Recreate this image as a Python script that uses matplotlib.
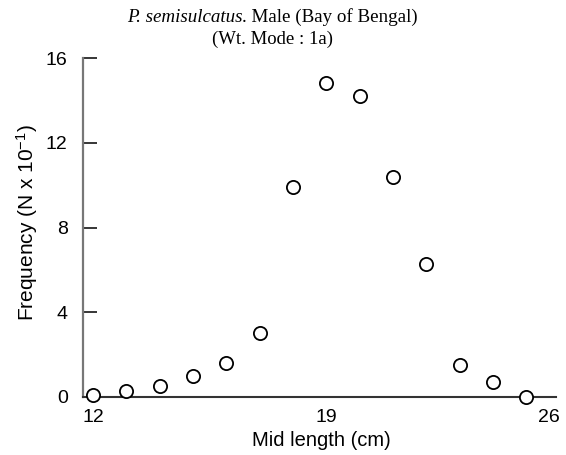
import numpy as np
import matplotlib.pyplot as plt
from matplotlib.transforms import ScaledTranslation

plt.rcParams['font.family'] = ['Liberation Sans', 'DejaVu Sans']
plt.rcParams['mathtext.fontset'] = 'custom'
plt.rcParams['mathtext.rm'] = 'Liberation Sans'
plt.rcParams['mathtext.it'] = 'Liberation Sans:italic'

# Mid length (cm) and frequency (N x 10^-1)
mid_length = [12, 13, 14, 15, 16, 17, 18, 19, 20, 21, 22, 23, 24, 25]
frequency = [0.1, 0.3, 0.5, 1.0, 1.6, 3.0, 9.9, 14.8, 14.2, 10.4, 6.3, 1.5, 0.7, 0.0]

x_ticks = [12, 19, 26]
y_ticks = [0, 4, 8, 12, 16]

fig = plt.figure(figsize=(5.66, 4.55), dpi=100)
ax = fig.add_axes([0.1466, 0.1275, 0.8424, 0.745])

ax.plot(mid_length, frequency, 'o', markersize=9.5, markerfacecolor='white',
        markeredgecolor='black', markeredgewidth=1.3, clip_on=False, zorder=3)

ax.set_xlim(11.7, 26.0)
ax.set_ylim(0, 16)
ax.set_xticks(x_ticks)
ax.set_yticks(y_ticks)

for s in ['top', 'right']:
    ax.spines[s].set_visible(False)
ax.spines['left'].set_color('#777777')
ax.spines['left'].set_linewidth(1.6)
ax.spines['bottom'].set_color('#333333')
ax.spines['bottom'].set_linewidth(1.5)
ax.spines['bottom'].set_bounds(11.7, 25.9)

ax.tick_params(axis='y', direction='in', length=10, width=1.1, pad=11,
               labelsize=14, color='black')
ax.tick_params(axis='x', length=0, pad=9, labelsize=14)

# pull the last x label back inside the figure
last = ax.get_xticklabels()[-1]
last.set_transform(last.get_transform() + ScaledTranslation(-0.11, 0, fig.dpi_scale_trans))

ax.set_xlabel('Mid length (cm)', fontsize=14.5, labelpad=3)
fig.text(27 / 566, 0.51, 'Frequency (N x 10$^{-1}$)', rotation=90,
         ha='center', va='center', fontsize=15)

# two-line title in a serif face, species name in italics
t1 = fig.text(127 / 566, 0.952, 'P. semisulcatus', family='Liberation Serif',
              style='italic', fontsize=13.7, ha='left', va='baseline')
ax.annotate('. Male (Bay of Bengal)', xy=(1, 0), xycoords=t1,
            family='Liberation Serif', fontsize=13.7, ha='left', va='bottom')
fig.text(273 / 566, 0.903, '(Wt. Mode : 1a)', family='Liberation Serif',
         fontsize=13.5, ha='center', va='baseline')

fig.savefig('out.png', dpi=100)
